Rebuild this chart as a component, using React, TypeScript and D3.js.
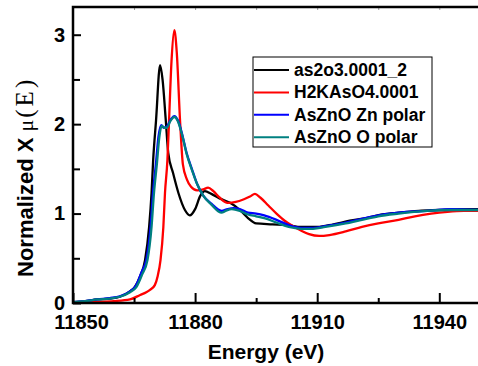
import { useEffect, useRef } from 'react';
import * as d3 from 'd3';

// as2o3.0001_2
const as2o3Energy = [
  11850, 11853, 11856, 11859, 11861.5, 11864, 11865.2, 11866.5, 11867.7, 11868.7, 11869.3,
  11869.7, 11870.4, 11871.4, 11872, 11872.8, 11873.4, 11874.6, 11875.9, 11877.5, 11878.7,
  11880, 11881.3, 11882.4, 11884, 11886, 11888.6, 11891, 11893, 11895, 11899, 11903, 11906,
  11910, 11914, 11918, 11922, 11926, 11930, 11935, 11940, 11945, 11950,
];
const as2o3Mu = [
  0.01, 0.02, 0.04, 0.05, 0.07, 0.13, 0.18, 0.3, 0.48, 0.85, 1.23,
  1.6, 2.04, 2.66, 2.5, 2.04, 1.68, 1.45, 1.23, 1.04, 0.98,
  1.05, 1.2, 1.25, 1.22, 1.17, 1.12, 1.04, 0.95, 0.89, 0.88, 0.87, 0.85,
  0.85, 0.88, 0.92, 0.95, 0.99, 1.01, 1.03, 1.04, 1.05, 1.05,
];

// H2KAsO4.0001
const h2kaso4Energy = [
  11850, 11855, 11860, 11864, 11866.5, 11868, 11869, 11870.1, 11870.8, 11871.5, 11872.2,
  11872.6, 11873.2, 11873.6, 11874.2, 11874.9, 11875.5, 11876.3, 11877, 11878, 11879,
  11880.5, 11882, 11883.2, 11884.5, 11886, 11888, 11890, 11892, 11893.5, 11894.7, 11896,
  11898, 11900, 11902, 11904, 11906, 11908, 11910.5, 11913, 11917, 11921, 11925, 11930,
  11934, 11938, 11942, 11946, 11950,
];
const h2kaso4Mu = [
  0.0, 0.01, 0.02, 0.04, 0.09, 0.12, 0.15, 0.2, 0.3, 0.48, 0.85,
  1.23, 1.6, 2.04, 2.7, 3.05, 2.8, 2.04, 1.55, 1.38, 1.3,
  1.26, 1.27, 1.29, 1.25, 1.18, 1.12, 1.13, 1.16, 1.19, 1.22, 1.18,
  1.09, 1.0, 0.92, 0.86, 0.81, 0.77, 0.75, 0.76, 0.8, 0.85, 0.89, 0.93,
  0.97, 1.0, 1.02, 1.03, 1.03,
];

// AsZnO Zn polar
const znPolarEnergy = [
  11850, 11853, 11856, 11859, 11861.5, 11864, 11865.4, 11866.8, 11868.1, 11869.1, 11869.7,
  11870.4, 11871, 11871.7, 11872.3, 11873, 11874, 11874.9, 11875.8, 11876.8, 11877.9,
  11879.2, 11880.5, 11882, 11884, 11886.5, 11888, 11889.5, 11891, 11893, 11895, 11897,
  11900, 11903, 11906, 11909, 11912, 11917, 11921, 11925, 11930, 11937, 11943, 11950,
];
const znPolarMu = [
  0.01, 0.02, 0.04, 0.055, 0.075, 0.13, 0.19, 0.34, 0.5, 0.87, 1.25,
  1.57, 1.86, 1.99, 1.96, 1.97, 2.05, 2.09, 2.04, 1.89, 1.68,
  1.5, 1.33, 1.2, 1.11, 1.03, 1.05, 1.06, 1.05, 1.01, 1.0, 0.98,
  0.93, 0.87, 0.84, 0.84, 0.86, 0.9, 0.94, 0.98, 1.01, 1.03, 1.05, 1.04,
];

// AsZnO O polar
const oPolarEnergy = [
  11850, 11853, 11856, 11859, 11861.5, 11864, 11865.6, 11867, 11868.3, 11869.3, 11869.9,
  11870.6, 11871.2, 11871.8, 11872.4, 11873, 11874, 11874.9, 11875.8, 11876.8, 11877.9,
  11879.2, 11880.5, 11882, 11884, 11886.5, 11887.5, 11889, 11891, 11893, 11895, 11897,
  11900, 11903, 11906, 11909, 11912, 11917, 11921, 11925, 11930, 11937, 11943, 11950,
];
const oPolarMu = [
  0.01, 0.02, 0.04, 0.05, 0.07, 0.12, 0.18, 0.32, 0.48, 0.85, 1.23,
  1.55, 1.85, 1.98, 1.96, 1.96, 2.04, 2.08, 2.03, 1.88, 1.67,
  1.49, 1.33, 1.2, 1.1, 1.01, 1.03, 1.05, 1.03, 0.99, 0.97, 0.95,
  0.9, 0.85, 0.83, 0.83, 0.85, 0.89, 0.93, 0.97, 1.0, 1.03, 1.04, 1.04,
];

const seriesNames = ['as2o3.0001_2', 'H2KAsO4.0001', 'AsZnO Zn polar', 'AsZnO O polar'];
const seriesColors = ['#000000', '#ff0000', '#0000ff', '#008080'];

const xMajorTicks = [11850, 11880, 11910, 11940];
const xMinorTicks = [11865, 11895, 11925];
const yMajorTicks = [0, 1, 2, 3];
const yMinorTicks = [0.5, 1.5, 2.5];

const WIDTH = 478;
const HEIGHT = 366;
const SANS = "'Liberation Sans', Arial, sans-serif";
const SERIF = "'Liberation Serif', 'Times New Roman', serif";

type Pt = { e: number; mu: number };

export default function App() {
  const svgRef = useRef<SVGSVGElement>(null);

  useEffect(() => {
    if (!svgRef.current) return;
    const svg = d3.select(svgRef.current);
    svg.selectAll('*').remove();

    const left = 73;
    const right = 480;
    const top = 7;
    const bottom = 303;

    const x = d3.scaleLinear().domain([11850, 11950]).range([left, right]);
    const y = d3.scaleLinear().domain([0, 3.31]).range([bottom, top]);

    svg
      .append('defs')
      .append('clipPath')
      .attr('id', 'plot-clip')
      .append('rect')
      .attr('x', left)
      .attr('y', top)
      .attr('width', right - left)
      .attr('height', bottom - top);

    const series: Pt[][] = [
      as2o3Energy.map((e, i) => ({ e, mu: as2o3Mu[i] })),
      h2kaso4Energy.map((e, i) => ({ e, mu: h2kaso4Mu[i] })),
      znPolarEnergy.map((e, i) => ({ e, mu: znPolarMu[i] })),
      oPolarEnergy.map((e, i) => ({ e, mu: oPolarMu[i] })),
    ];

    const line = d3
      .line<Pt>()
      .x((d) => x(d.e))
      .y((d) => y(d.mu))
      .curve(d3.curveMonotoneX);

    const lines = svg.append('g').attr('clip-path', 'url(#plot-clip)');
    series.forEach((data, i) => {
      lines
        .append('path')
        .datum(data)
        .attr('fill', 'none')
        .attr('stroke', seriesColors[i])
        .attr('stroke-width', 2.3)
        .attr('stroke-linejoin', 'round')
        .attr('d', line);
    });

    const styleAxis = (group: d3.Selection<SVGGElement, unknown, null, undefined>) => {
      group.select('.domain').remove();
      group.selectAll('.tick line').attr('stroke', '#000').attr('stroke-width', 2);
      group
        .selectAll('.tick text')
        .attr('fill', '#000')
        .attr('font-size', 20)
        .attr('font-weight', 'bold')
        .attr('font-family', SANS);
    };

    // bottom axis
    svg
      .append('g')
      .attr('transform', `translate(0,${bottom})`)
      .call(d3.axisBottom(x).tickValues(xMajorTicks).tickSize(-10).tickPadding(12).tickFormat(d3.format('d')))
      .call(styleAxis)
      .call((g) => g.selectAll('.tick text').filter((d) => d === 11850).attr('dx', 8));
    svg
      .append('g')
      .attr('transform', `translate(0,${bottom})`)
      .call(d3.axisBottom(x).tickValues(xMinorTicks).tickSize(-5).tickFormat(() => ''))
      .call(styleAxis);

    // top axis ticks
    svg
      .append('g')
      .attr('transform', `translate(0,${top})`)
      .call(d3.axisTop(x).tickValues([...xMajorTicks, ...xMinorTicks]).tickSize(-3).tickFormat(() => ''))
      .call(styleAxis)
      .call((g) => g.selectAll('.tick line').attr('stroke-width', 1).attr('stroke', '#999'));

    // left axis
    svg
      .append('g')
      .attr('transform', `translate(${left},0)`)
      .call(d3.axisLeft(y).tickValues(yMajorTicks).tickSize(-8).tickPadding(8).tickFormat(d3.format('d')))
      .call(styleAxis);
    svg
      .append('g')
      .attr('transform', `translate(${left},0)`)
      .call(d3.axisLeft(y).tickValues(yMinorTicks).tickSize(-7).tickFormat(() => ''))
      .call(styleAxis);

    // frame
    svg
      .append('path')
      .attr('d', `M${right},${top}H${left}V${bottom}H${right}`)
      .attr('fill', 'none')
      .attr('stroke', '#000')
      .attr('stroke-width', 2.5);

    // axis titles
    svg
      .append('text')
      .attr('x', 266)
      .attr('y', 359)
      .attr('text-anchor', 'middle')
      .attr('font-size', 21)
      .attr('font-weight', 'bold')
      .attr('font-family', SANS)
      .text('Energy (eV)');

    const yTitle = svg
      .append('text')
      .attr('transform', 'translate(33,277) rotate(-90)')
      .attr('text-anchor', 'start')
      .attr('font-family', SANS)
      .attr('font-size', 22)
      .attr('font-weight', 'bold');
    yTitle.append('tspan').text('Normalized X ');
    yTitle
      .append('tspan')
      .attr('font-family', SERIF)
      .attr('font-weight', 'normal')
      .attr('font-size', 22)
      .text('μ');
    yTitle
      .append('tspan')
      .attr('font-family', SERIF)
      .attr('font-weight', 'normal')
      .attr('font-size', 25)
      .attr('letter-spacing', 3)
      .attr('dx', 2)
      .text('(E)');

    // legend
    const legend = svg.append('g');
    legend
      .append('rect')
      .attr('x', 253)
      .attr('y', 57)
      .attr('width', 179)
      .attr('height', 90)
      .attr('fill', '#fff')
      .attr('stroke', '#000')
      .attr('stroke-width', 1);
    seriesNames.forEach((name, i) => {
      const cy = 70 + i * 22.4;
      legend
        .append('line')
        .attr('x1', 254)
        .attr('x2', 289)
        .attr('y1', cy)
        .attr('y2', cy)
        .attr('stroke', seriesColors[i])
        .attr('stroke-width', 2);
      legend
        .append('text')
        .attr('x', 294)
        .attr('y', cy + 6)
        .attr('font-size', 17.5)
        .attr('font-weight', 'bold')
        .attr('font-family', SANS)
        .text(name);
    });
  }, []);

  return (
    <svg
      ref={svgRef}
      width={WIDTH}
      height={HEIGHT}
      style={{ position: 'absolute', left: 0, top: 0, background: '#fff' }}
    />
  );
}
